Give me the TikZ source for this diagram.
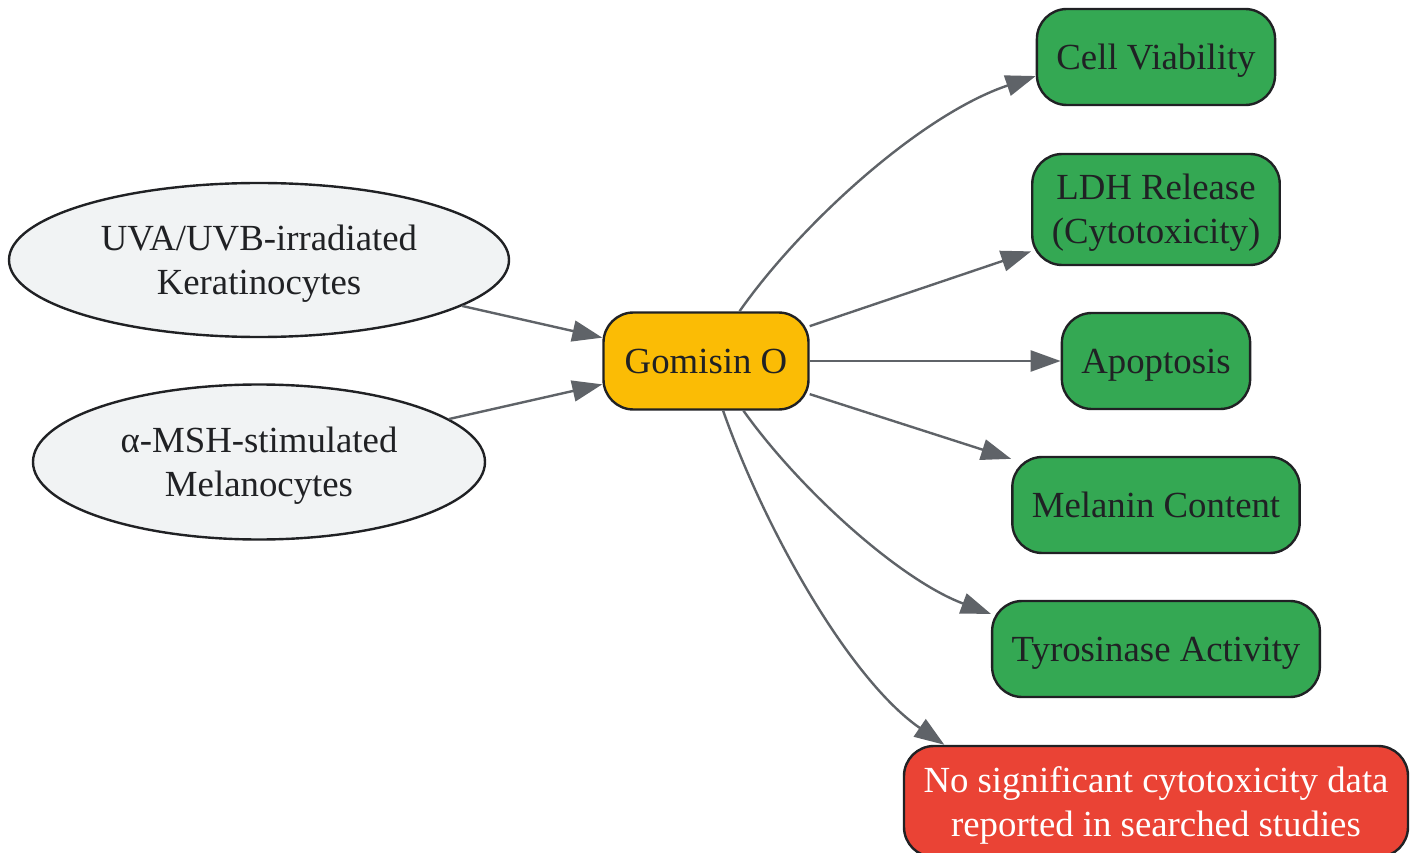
\documentclass[tikz,border=0pt]{standalone}
\usepackage{fontspec}
\setmainfont{Liberation Serif}
\usetikzlibrary{shapes.geometric,arrows.meta}
\definecolor{edgegray}{HTML}{5F6368}
\definecolor{ink}{HTML}{202124}
\definecolor{gfill}{HTML}{34A853}
\definecolor{yfill}{HTML}{FBBC05}
\definecolor{rfill}{HTML}{EA4335}
\definecolor{efill}{HTML}{F1F3F4}
\begin{document}
\begin{tikzpicture}[x=1pt,y=-1pt,
  base/.style={draw=ink, line width=2.4pt, text=ink, align=center, font=\fontsize{36.8}{44}\selectfont},
  oneline/.style={text height=25pt, text depth=0pt},
  twoline/.style={text height=69pt, text depth=0pt},
  src/.style={base, twoline, ellipse, fill=efill, inner sep=0pt},
  box/.style={base, oneline, rectangle, rounded corners=30pt, inner xsep=19.5pt, inner ysep=0pt, minimum height=96pt},
  ok/.style={box, fill=gfill},
  link/.style={draw=edgegray, line width=2.4pt, -{Triangle[length=30pt,width=21pt]}}]
\useasboundingbox (0,0) rectangle (1417,853);

\node[src, minimum width=500pt, minimum height=154pt] (uv) at (259,260) {UVA/UVB-irradiated\\Keratinocytes};
\node[src, minimum width=452pt, minimum height=155pt] (msh) at (259,462) {α-MSH-stimulated\\Melanocytes};
\node[box, fill=yfill, minimum width=205pt, minimum height=97pt] (g) at (706,361) {Gomisin O};

\node[ok] (cv) at (1156,57) {Cell Viability};
\node[ok, twoline, minimum height=111pt] (ldh) at (1156,209.5) {LDH Release\\(Cytotoxicity)};
\node[ok] (apo) at (1156,361) {Apoptosis};
\node[ok] (mel) at (1156,505) {Melanin Content};
\node[ok] (tyr) at (1156,649) {Tyrosinase Activity};
\node[box, twoline, fill=rfill, text=white, minimum height=111pt] (none) at (1156,801.5) {No significant cytotoxicity data\\reported in searched studies};

\draw[link] (uv) -- (g);
\draw[link] (msh) -- (g);
\draw[link] (g.56) .. controls (800,225) and (920,115) .. (cv.189);
\draw[link] (g.-53) .. controls (800,490) and (900,580) .. (tyr.168);
\draw[link] (g) -- (ldh);
\draw[link] (g) -- (apo);
\draw[link] (g) -- (mel);
\draw[link] (g.-71) .. controls (765,530) and (850,680) .. (none.165.6);
\end{tikzpicture}
\end{document}
